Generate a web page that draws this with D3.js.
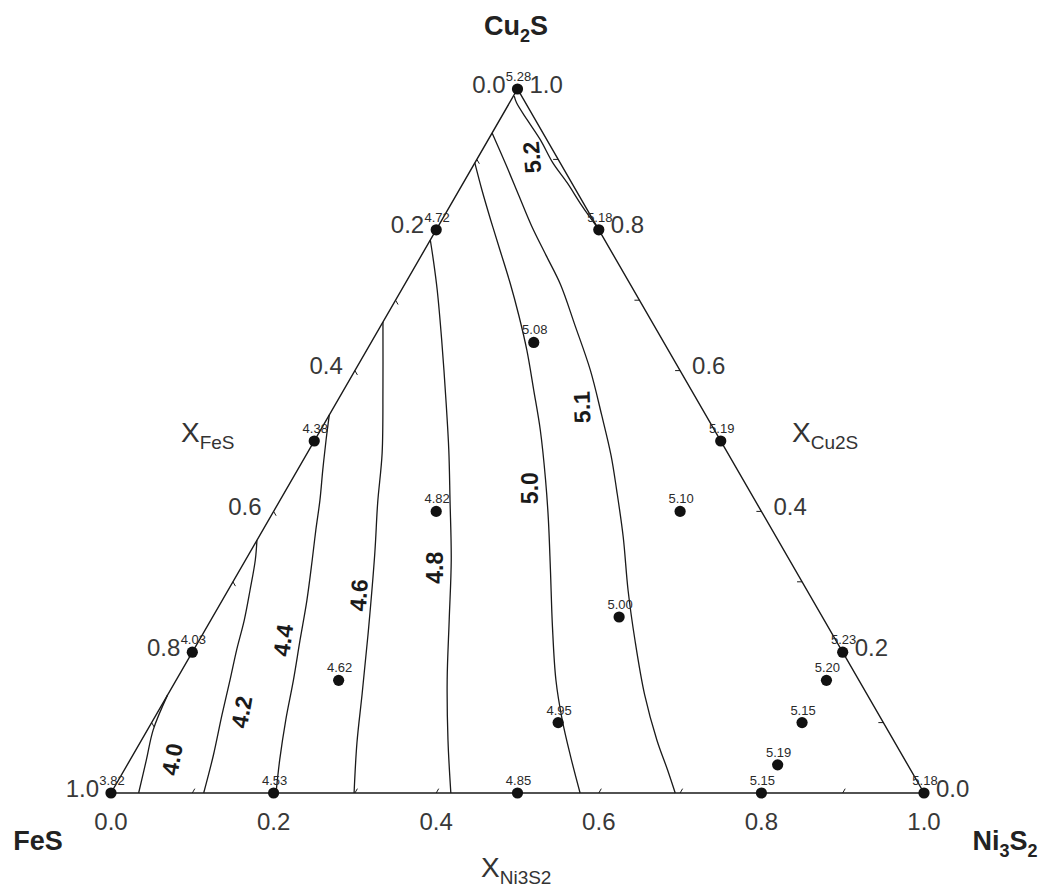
<!DOCTYPE html>
<html>
<head>
<meta charset="utf-8">
<script src="https://cdn.jsdelivr.net/npm/d3@7"></script>
<style>
  html, body { margin: 0; padding: 0; background: #fff; }
  svg { display: block; }
  text { font-family: "Liberation Sans", Arial, Helvetica, sans-serif; }
</style>
</head>
<body>
<svg id="chart" width="1044" height="888"></svg>
<script>
// ---- measured compositions (mole fractions of Ni3S2 and Cu2S; FeS is the rest) ----
const pointNi  = [0, 0, 0.2, 0.2, 0, 0.5, 0.2, 0.5, 0.5, 0, 0.8, 0.2, 0.8, 0.8, 0.5, 0.8, 0, 0.2, 0.5, 0.8, 1];
const pointCu  = [1, 0.8, 0.8, 0.64, 0.5, 0.5, 0.4, 0.4, 0.25, 0.2, 0.2, 0.16, 0.16, 0.1, 0.1, 0.04, 0, 0, 0, 0, 0];
const pointVal = [5.28, 4.72, 5.18, 5.08, 4.38, 5.19, 4.82, 5.10, 5.00, 4.03, 5.23, 4.62, 5.20, 5.15, 4.95, 5.19, 3.82, 4.53, 4.85, 5.15, 5.18];

// ---- iso-value lines, each point is [xNi3S2, xCu2S] ----
const contourLevels = [4.0, 4.2, 4.4, 4.6, 4.8, 5.0, 5.1, 5.2];
const iso40 = [[0.034,0],[0.020,0.047],[0.007,0.09],[0,0.139]];
const iso42 = [[0.114,0],[0.099,0.054],[0.081,0.111],[0.066,0.161],[0.053,0.203],[0.041,0.246],[0.027,0.288],[0.012,0.331],[0,0.359]];
const iso44 = [[0.203,0],[0.184,0.047],[0.163,0.104],[0.144,0.161],[0.124,0.217],[0.104,0.274],[0.082,0.331],[0.065,0.374],[0.049,0.416],[0.031,0.459],[0.014,0.501],[0,0.537]];
const iso46 = [[0.299,0],[0.267,0.071],[0.238,0.142],[0.199,0.236],[0.154,0.341],[0.122,0.412],[0.092,0.483],[0.046,0.577],[0,0.669]];
const iso48 = [[0.418,0],[0.377,0.075],[0.333,0.161],[0.293,0.246],[0.253,0.331],[0.209,0.416],[0.172,0.487],[0.133,0.558],[0.085,0.6435],[0.044,0.7145],[0.018,0.757],[0,0.7855]];
const iso50 = [[0.577,0],[0.540,0.051],[0.503,0.104],[0.467,0.1605],[0.425,0.236],[0.382,0.317],[0.344,0.388],[0.312,0.445],[0.270,0.516],[0.234,0.572],[0.197,0.629],[0.162,0.679],[0.129,0.724],[0.093,0.771],[0.060,0.814],[0.028,0.8565],[0,0.895]];
const iso51 = [[0.694,0],[0.668,0.033],[0.634,0.075],[0.587,0.139],[0.536,0.217],[0.492,0.288],[0.448,0.364],[0.407,0.430],[0.375,0.480],[0.335,0.537],[0.289,0.601],[0.238,0.665],[0.192,0.722],[0.153,0.764],[0.115,0.805],[0.077,0.849],[0.040,0.892],[0,0.9375]];
const iso52 = [[0.196,0.804],[0.180,0.818],[0.158,0.838],[0.128,0.8665],[0.096,0.895],[0.064,0.928],[0.034,0.956],[0.009,0.980],[0.001,0.990]];
const contourLines = [iso40, iso42, iso44, iso46, iso48, iso50, iso51, iso52];

// where each line's value is written, [xNi3S2, xCu2S]
const contourLabelAt = [[0.051,0.048],[0.103,0.115],[0.103,0.217],[0.164,0.281],[0.238,0.320],[0.299,0.433],[0.305,0.548],[0.066,0.903]];
const contourLabelAngle = [-80, -80, -82, -86, -90, -90, -92, -95];

// axis ticks
const majorTicks = [0, 0.2, 0.4, 0.6, 0.8, 1.0];
const minorTicks = [0.1, 0.2, 0.3, 0.4, 0.5, 0.6, 0.7, 0.8, 0.9];

// ---- layout ----
const svg = d3.select("#chart");
const hx = d3.scaleLinear().domain([0, 1]).range([111, 924]);   // horizontal: xNi + xCu/2
const vy = d3.scaleLinear().domain([0, 1]).range([793, 89]);    // vertical: xCu
const px = (ni, cu) => hx(ni + cu / 2);
const py = (ni, cu) => vy(cu);
const ink = "#1a1a1a";
const fmt1 = d3.format(".1f");
const fmt2 = d3.format(".2f");

// triangle frame
const corners = [[0, 0], [1, 0], [0, 1]];
svg.append("path")
  .attr("d", d3.line().x(d => px(d[0], d[1])).y(d => py(d[0], d[1]))(corners) + "Z")
  .attr("fill", "none").attr("stroke", ink).attr("stroke-width", 1.4)
  .attr("stroke-linejoin", "miter");

// minor ticks on the three edges
const tickLen = 5;
const tickG = svg.append("g").attr("stroke", ink).attr("stroke-width", 1);
minorTicks.forEach(t => {
  // left edge: FeS fraction t
  let x = px(0, 1 - t), y = py(0, 1 - t);
  tickG.append("line").attr("x1", x).attr("y1", y).attr("x2", x + tickLen * 0.5).attr("y2", y + tickLen * 0.866);
  // right edge: Cu2S fraction t
  x = px(1 - t, t); y = py(1 - t, t);
  tickG.append("line").attr("x1", x).attr("y1", y).attr("x2", x - tickLen).attr("y2", y);
  // bottom edge: Ni3S2 fraction t
  x = px(t, 0); y = py(t, 0);
  tickG.append("line").attr("x1", x).attr("y1", y).attr("x2", x + tickLen * 0.5).attr("y2", y - tickLen * 0.866);
});

// tick labels
const tickLabelG = svg.append("g").attr("fill", "#383838").attr("font-size", 24);
majorTicks.forEach(t => {
  tickLabelG.append("text").text(fmt1(t))
    .attr("x", px(0, 1 - t) - 12).attr("y", py(0, 1 - t) - 5)
    .attr("dy", "0.36em").attr("text-anchor", "end");
  tickLabelG.append("text").text(fmt1(t))
    .attr("x", px(1 - t, t) + 12).attr("y", py(1 - t, t) - 5)
    .attr("dy", "0.36em").attr("text-anchor", "start");
  tickLabelG.append("text").text(fmt1(t))
    .attr("x", px(t, 0)).attr("y", py(t, 0) + 28)
    .attr("dy", "0.36em").attr("text-anchor", "middle");
});

// iso-value lines
const isoLine = d3.line()
  .x(d => px(d[0], d[1])).y(d => py(d[0], d[1]))
  .curve(d3.curveCatmullRom.alpha(0.5));
svg.append("g").selectAll("path").data(contourLines).join("path")
  .attr("d", isoLine)
  .attr("fill", "none").attr("stroke", ink).attr("stroke-width", 1.3);

svg.append("g").selectAll("text").data(contourLevels).join("text")
  .text(d => fmt1(d))
  .attr("transform", (d, i) => {
    const a = contourLabelAt[i];
    return `translate(${px(a[0], a[1])},${py(a[0], a[1])}) rotate(${contourLabelAngle[i]})`;
  })
  .attr("dy", "0.36em").attr("text-anchor", "middle")
  .attr("font-size", 23).attr("font-weight", "bold").attr("fill", ink);

// measured points and their values
const pts = pointVal.map((v, i) => ({ ni: pointNi[i], cu: pointCu[i], v }));
svg.append("g").selectAll("circle").data(pts).join("circle")
  .attr("cx", d => px(d.ni, d.cu)).attr("cy", d => py(d.ni, d.cu))
  .attr("r", 5.6).attr("fill", "#111");
svg.append("g").selectAll("text").data(pts).join("text")
  .text(d => fmt2(d.v))
  .attr("x", d => px(d.ni, d.cu) + 1).attr("y", d => py(d.ni, d.cu) - 8)
  .attr("text-anchor", "middle").attr("font-size", 13).attr("fill", "#2a2a2a");

// component names at the corners
function chem(sel, parts, big, small) {
  parts.forEach(p => {
    sel.append("tspan").text(p[0])
      .attr("font-size", p[1] ? small : big)
      .attr("dy", p[1] ? 7 : (p[2] ? -7 : 0));
  });
  return sel;
}
const cornerG = svg.append("g").attr("font-weight", "bold").attr("fill", "#222");
chem(cornerG.append("text").attr("x", 516).attr("y", 35).attr("text-anchor", "middle"),
  [["Cu"], ["2", true], ["S", false, true]], 27, 18);
chem(cornerG.append("text").attr("x", 38).attr("y", 850).attr("text-anchor", "middle"),
  [["FeS"]], 27, 18);
chem(cornerG.append("text").attr("x", 1005).attr("y", 850).attr("text-anchor", "middle"),
  [["Ni"], ["3", true], ["S", false, true], ["2", true]], 27, 18);

// axis titles
function axisTitle(x, y, sub) {
  const t = svg.append("text").attr("x", x).attr("y", y).attr("fill", "#333");
  t.append("tspan").text("X").attr("font-size", 28);
  t.append("tspan").text(sub).attr("font-size", 19).attr("dy", 7);
}
axisTitle(181, 442, "FeS");
axisTitle(792, 442, "Cu2S");
axisTitle(481, 877, "Ni3S2");
</script>
</body>
</html>
